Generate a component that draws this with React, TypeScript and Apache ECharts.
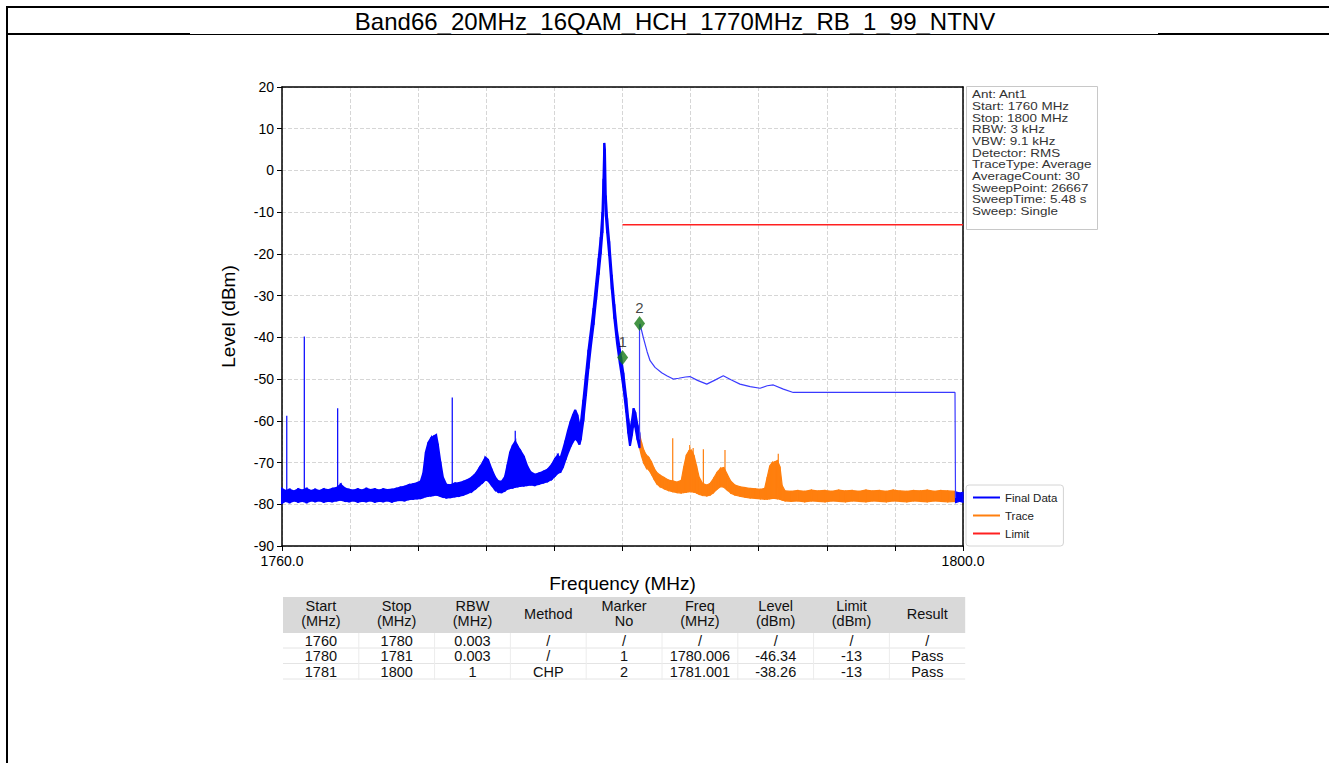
import React, { useEffect, useRef } from 'react';
import * as echarts from 'echarts';

const FONT = '"Liberation Sans", Arial, Helvetica, sans-serif';

const titleText = 'Band66_20MHz_16QAM_HCH_1770MHz_RB_1_99_NTNV';
const xLabelledTicks = [1760, 1800];

const infoLines = [
  'Ant: Ant1',
  'Start: 1760 MHz',
  'Stop: 1800 MHz',
  'RBW: 3 kHz',
  'VBW: 9.1 kHz',
  'Detector: RMS',
  'TraceType: Average',
  'AverageCount: 30',
  'SweepPoint: 26667',
  'SweepTime: 5.48 s',
  'Sweep: Single',
];

// Final Data noise band [freq, low, high] (dBm) 1760 -> 1781 MHz
const finalBand: number[][] = [
  [1760.0, -79.7, -76.3], [1760.2, -79.2, -76.8], [1760.45, -79.5, -76.5], [1760.7, -79.1, -76.9],
  [1760.95, -79.4, -76.4], [1761.2, -79.2, -76.7], [1761.45, -79.5, -76.3], [1761.7, -79.1, -76.8],
  [1761.95, -79.3, -76.5], [1762.2, -79.1, -76.8], [1762.45, -79.4, -76.4], [1762.7, -79.2, -76.6],
  [1762.95, -79.3, -76.3], [1763.2, -79.1, -76.1], [1763.45, -78.9, -75.3], [1763.7, -79.2, -76.2],
  [1763.95, -79.3, -76.5], [1764.2, -79.1, -76.7], [1764.45, -79.4, -76.4], [1764.7, -79.2, -76.7],
  [1764.95, -79.3, -76.3], [1765.2, -79.1, -76.6], [1765.45, -79.4, -76.4], [1765.7, -79.2, -76.7],
  [1765.95, -79.3, -76.4], [1766.2, -79.1, -76.6], [1766.45, -79.4, -76.5], [1766.7, -79.1, -76.3],
  [1766.95, -79.0, -76.0], [1767.2, -79.1, -75.8], [1767.45, -78.8, -75.4], [1767.7, -78.7, -75.2],
  [1767.95, -78.6, -74.9], [1768.15, -78.5, -74.5], [1768.3, -78.3, -72.5], [1768.45, -78.1, -67.5],
  [1768.6, -78.0, -65.2], [1768.75, -77.9, -64.2], [1768.9, -77.8, -63.8], [1769.05, -77.7, -63.4],
  [1769.15, -77.8, -65.5], [1769.3, -78.0, -69.8], [1769.45, -78.2, -73.5], [1769.65, -78.4, -75.3],
  [1769.9, -78.3, -75.4], [1770.15, -78.1, -75.0], [1770.4, -78.0, -74.9], [1770.65, -77.7, -74.6],
  [1770.9, -77.3, -74.2], [1771.15, -76.9, -73.6], [1771.4, -76.1, -72.6], [1771.6, -75.4, -71.3],
  [1771.8, -74.7, -70.0], [1771.95, -74.1, -68.8], [1772.1, -74.3, -69.3], [1772.3, -75.3, -71.5],
  [1772.5, -76.4, -73.4], [1772.7, -77.0, -74.5], [1772.9, -77.1, -74.6], [1773.1, -76.7, -73.4],
  [1773.25, -76.3, -70.5], [1773.4, -76.1, -67.5], [1773.55, -76.0, -66.0], [1773.7, -75.8, -65.0],
  [1773.85, -75.7, -66.2], [1774.0, -75.6, -67.2], [1774.2, -75.5, -68.5], [1774.4, -75.4, -70.8],
  [1774.6, -75.3, -72.3], [1774.85, -75.4, -72.9], [1775.1, -75.1, -72.6], [1775.35, -74.8, -72.2],
  [1775.6, -74.5, -71.7], [1775.85, -73.9, -70.5], [1776.05, -73.1, -69.0], [1776.2, -72.5, -68.3],
  [1776.35, -72.3, -69.0], [1776.5, -71.1, -67.0], [1776.65, -69.3, -64.8], [1776.8, -67.6, -62.3],
  [1776.95, -66.1, -60.2], [1777.1, -64.9, -58.5], [1777.22, -64.3, -57.4], [1777.35, -64.7, -58.6],
  [1777.47, -65.7, -61.0], [1777.55, -64.5, -60.5], [1777.7, -60.0, -55.0], [1777.85, -54.0, -49.0],
  [1778.0, -47.5, -43.0], [1778.15, -42.0, -38.0], [1778.3, -37.0, -33.0], [1778.45, -31.0, -27.0],
  [1778.6, -25.0, -21.0], [1778.72, -20.0, -16.0], [1778.82, -15.0, -10.0], [1778.88, -8.0, -2.0],
  [1778.93, -1.0, 6.6], [1778.97, -6.0, 5.0], [1779.02, -11.0, -6.0], [1779.1, -15.0, -11.5],
  [1779.22, -20.5, -17.0], [1779.37, -28.5, -25.0], [1779.52, -35.5, -32.0], [1779.68, -41.5, -38.5],
  [1779.85, -46.5, -43.0], [1780.05, -52.0, -48.5], [1780.22, -58.0, -54.5], [1780.34, -63.0, -59.5],
  [1780.44, -66.0, -62.5], [1780.55, -63.5, -60.0], [1780.65, -60.5, -57.0], [1780.75, -61.5, -58.0],
  [1780.88, -64.5, -61.0], [1781.0, -66.5, -63.0],
];

// Final Data noise at the far right end
const finalTailBand: number[][] = [
  [1799.56, -79.6, -77.0], [1799.8, -79.3, -77.3], [1800.0, -79.5, -77.1],
];

// Final Data thin line 1781 -> 1800 MHz
const finalLine: number[][] = [
  [1781.0, -64.5], [1781.0, -37.0], [1781.03, -36.8], [1781.22, -40.0], [1781.45, -43.5],
  [1781.62, -45.6], [1781.91, -47.2], [1782.3, -48.5], [1782.6, -49.2], [1782.98, -50.0],
  [1783.3, -49.8], [1783.7, -49.5], [1783.96, -49.4], [1784.4, -50.3], [1784.95, -51.2],
  [1785.4, -50.3], [1785.92, -49.2], [1786.4, -50.2], [1786.9, -51.2], [1787.5, -51.8],
  [1788.08, -52.2], [1788.5, -51.6], [1788.86, -51.4], [1789.45, -52.4], [1790.03, -53.2],
  [1795.0, -53.2], [1799.53, -53.2], [1799.56, -78.5],
];

// spikes [freq, base, top]
const finalSpikes: number[][] = [
  [1760.28, -77.0, -58.8], [1761.31, -77.0, -39.8], [1763.27, -77.0, -57.0],
  [1770.0, -76.0, -54.4], [1773.7, -72.0, -62.4],
];

// Trace noise band [freq, low, high] 1781 -> 1799.56 MHz
const traceBand: number[][] = [
  [1781.0, -66.5, -63.2], [1781.12, -68.5, -65.2], [1781.25, -70.2, -67.0], [1781.4, -71.3, -68.2],
  [1781.55, -71.8, -68.8], [1781.7, -72.8, -69.8], [1781.85, -74.0, -71.3], [1782.0, -75.0, -72.3],
  [1782.2, -75.8, -73.0], [1782.45, -76.3, -73.6], [1782.7, -76.7, -74.2], [1782.95, -77.0, -74.4],
  [1783.2, -77.2, -74.7], [1783.45, -77.3, -74.3], [1783.6, -77.2, -71.0], [1783.75, -77.1, -68.2],
  [1783.9, -77.0, -67.2], [1784.05, -77.0, -67.0], [1784.2, -77.1, -68.3], [1784.35, -77.3, -70.8],
  [1784.5, -77.6, -73.5], [1784.7, -77.9, -75.0], [1784.95, -78.0, -75.4], [1785.15, -77.8, -75.0],
  [1785.35, -77.2, -73.8], [1785.55, -76.4, -72.4], [1785.75, -75.8, -71.4], [1785.95, -75.9, -71.2],
  [1786.15, -76.6, -72.8], [1786.35, -77.3, -74.4], [1786.6, -77.8, -75.4], [1786.9, -78.1, -75.8],
  [1787.2, -78.3, -76.0], [1787.5, -78.5, -76.2], [1787.8, -78.6, -76.3], [1788.1, -78.7, -76.4],
  [1788.35, -78.8, -76.2], [1788.5, -78.8, -73.5], [1788.65, -78.7, -70.8], [1788.8, -78.6, -70.0],
  [1788.95, -78.6, -69.8], [1789.1, -78.7, -69.5], [1789.25, -78.8, -71.0], [1789.38, -79.0, -75.5],
  [1789.55, -79.2, -76.8], [1789.9, -79.3, -76.9], [1790.3, -79.2, -76.7], [1790.7, -79.4, -76.9],
  [1791.1, -79.2, -76.6], [1791.5, -79.3, -76.8], [1791.9, -79.4, -76.7], [1792.3, -79.2, -76.9],
  [1792.7, -79.3, -76.6], [1793.1, -79.4, -76.8], [1793.5, -79.2, -76.7], [1793.9, -79.3, -76.9],
  [1794.3, -79.4, -76.6], [1794.7, -79.2, -76.8], [1795.1, -79.3, -76.7], [1795.5, -79.4, -76.9],
  [1795.9, -79.2, -76.6], [1796.3, -79.3, -76.8], [1796.7, -79.4, -76.9], [1797.1, -79.2, -76.7],
  [1797.5, -79.3, -76.8], [1797.9, -79.4, -76.6], [1798.3, -79.2, -76.9], [1798.7, -79.3, -76.7],
  [1799.1, -79.4, -76.8], [1799.56, -79.3, -76.9],
];

const traceSpikes: number[][] = [
  [1782.95, -75.0, -64.2], [1783.95, -74.0, -65.8], [1784.15, -74.0, -66.5],
  [1784.75, -76.0, -66.8], [1786.02, -73.0, -67.0], [1789.15, -76.0, -67.9],
];

const limitLine: number[][] = [[1780, -13], [1800, -13]];

const markerFreq = [1780.006, 1781.001];
const markerLevel = [-44.8, -36.7];
const markerNo = ['1', '2'];

const tableHead1 = ['Start', 'Stop', 'RBW', 'Method', 'Marker', 'Freq', 'Level', 'Limit', 'Result'];
const tableHead2 = ['(MHz)', '(MHz)', '(MHz)', '', 'No', '(MHz)', '(dBm)', '(dBm)', ''];
const tableRows = [
  ['1760', '1780', '0.003', '/', '/', '/', '/', '/', '/'],
  ['1780', '1781', '0.003', '/', '1', '1780.006', '-46.34', '-13', 'Pass'],
  ['1781', '1800', '1', 'CHP', '2', '1781.001', '-38.26', '-13', 'Pass'],
];

const BLUE = '#0000ff';
const ORANGE = '#ff7f0e';
const RED = '#ff2020';

function bandSeries(name: string, rows: number[][], color: string, lw: number) {
  return {
    type: 'custom',
    name,
    data: rows,
    encode: { x: 0, y: [1, 2] },
    itemStyle: { color },
    z: 3,
    silent: true,
    renderItem: (params: any, api: any) => {
      const i = params.dataIndex;
      if (i >= rows.length - 1) return null;
      const a = rows[i];
      const b = rows[i + 1];
      const pts = [
        api.coord([a[0], a[2]]),
        api.coord([b[0], b[2]]),
        api.coord([b[0], b[1]]),
        api.coord([a[0], a[1]]),
      ];
      return {
        type: 'polygon',
        shape: { points: pts },
        style: { fill: color, stroke: color, lineWidth: lw },
      };
    },
  };
}

function spikeSeries(name: string, rows: number[][], color: string) {
  return {
    type: 'custom',
    name,
    data: rows,
    encode: { x: 0, y: [1, 2] },
    itemStyle: { color },
    z: 3,
    silent: true,
    renderItem: (params: any, api: any) => {
      const r = rows[params.dataIndex];
      const p1 = api.coord([r[0], r[1]]);
      const p2 = api.coord([r[0], r[2]]);
      return {
        type: 'line',
        shape: { x1: p1[0], y1: p1[1], x2: p2[0], y2: p2[1] },
        style: { stroke: color, lineWidth: 1.2 },
      };
    },
  };
}

export default function App() {
  const ref = useRef<HTMLDivElement>(null);

  useEffect(() => {
    if (!ref.current) return;
    const chart = echarts.init(ref.current, undefined, { renderer: 'svg' });

    const tblLeft = 283;
    const colW = 75.8;
    const graphics: any[] = [];

    // page frame
    graphics.push({ type: 'rect', shape: { x: 6, y: 6, width: 1323, height: 2 }, style: { fill: '#000' }, silent: true });
    graphics.push({ type: 'rect', shape: { x: 6, y: 6, width: 2, height: 757 }, style: { fill: '#000' }, silent: true });
    graphics.push({ type: 'rect', shape: { x: 6, y: 33, width: 184, height: 2 }, style: { fill: '#000' }, silent: true });
    graphics.push({ type: 'rect', shape: { x: 1158, y: 33, width: 171, height: 2 }, style: { fill: '#000' }, silent: true });
    graphics.push({ type: 'rect', shape: { x: 190, y: 34, width: 968, height: 1 }, style: { fill: '#000' }, silent: true });

    // title
    graphics.push({
      type: 'text', x: 675, y: 21,
      style: { text: titleText, fontSize: 24, fontFamily: FONT, fill: '#000', align: 'center', verticalAlign: 'middle' },
      silent: true,
    });

    // info box
    graphics.push({
      type: 'rect', shape: { x: 966.5, y: 86.5, width: 131, height: 143 },
      style: { fill: '#fff', stroke: '#c8c8c8', lineWidth: 1 }, silent: true, z: 10,
    });
    infoLines.forEach((ln, i) => {
      graphics.push({
        type: 'text', x: 972, y: 94.5 + i * 11.7, z: 11, scaleX: 1.18,
        style: {
          text: ln, fontSize: 11.4, fontFamily: FONT,
          fill: '#333', align: 'left', verticalAlign: 'middle',
        },
        silent: true,
      });
    });

    // table header background
    graphics.push({
      type: 'rect', shape: { x: tblLeft, y: 597, width: colW * 9, height: 36 },
      style: { fill: '#d9d9d9' }, silent: true,
    });
    for (let r = 0; r < 3; r++) {
      const y = 648 + r * 15.5;
      graphics.push({
        type: 'line', shape: { x1: tblLeft, y1: y, x2: tblLeft + colW * 9, y2: y },
        style: { stroke: '#e4e4e4', lineWidth: 1 }, silent: true,
      });
    }
    for (let c = 1; c < 9; c++) {
      const x = tblLeft + c * colW;
      graphics.push({
        type: 'line', shape: { x1: x, y1: 633, x2: x, y2: 680 },
        style: { stroke: '#ececec', lineWidth: 1 }, silent: true,
      });
    }
    for (let c = 0; c < 9; c++) {
      const cx = tblLeft + colW * (c + 0.5);
      if (tableHead2[c]) {
        graphics.push({ type: 'text', x: cx, y: 606, style: { text: tableHead1[c], fontSize: 14.5, fontFamily: FONT, fill: '#111', align: 'center', verticalAlign: 'middle' }, silent: true });
        graphics.push({ type: 'text', x: cx, y: 621, style: { text: tableHead2[c], fontSize: 14.5, fontFamily: FONT, fill: '#111', align: 'center', verticalAlign: 'middle' }, silent: true });
      } else {
        graphics.push({ type: 'text', x: cx, y: 613.5, style: { text: tableHead1[c], fontSize: 14.5, fontFamily: FONT, fill: '#111', align: 'center', verticalAlign: 'middle' }, silent: true });
      }
      for (let r = 0; r < tableRows.length; r++) {
        graphics.push({
          type: 'text', x: cx, y: 640.5 + r * 15.5,
          style: { text: tableRows[r][c], fontSize: 14.5, fontFamily: FONT, fill: '#111', align: 'center', verticalAlign: 'middle' },
          silent: true,
        });
      }
    }

    const frameAxis = {
      axisLine: { show: true, onZero: false, lineStyle: { color: '#000', width: 1.5 } },
      axisTick: { show: false },
      axisLabel: { show: false },
      splitLine: { show: false },
    };

    const option: any = {
      animation: false,
      backgroundColor: '#ffffff',
      textStyle: { fontFamily: FONT },
      grid: {
        left: 282, top: 87, width: 681, height: 459,
        show: false,
      },
      legend: {
        orient: 'vertical', left: 966, top: 485,
        data: [
          { name: 'Final Data', icon: 'rect' },
          { name: 'Trace', icon: 'rect' },
          { name: 'Limit', icon: 'rect' },
        ],
        itemWidth: 27, itemHeight: 2, itemGap: 5,
        padding: [6, 6, 6, 7],
        backgroundColor: '#fff', borderColor: '#d4d4d4', borderWidth: 1, borderRadius: 3,
        textStyle: { fontSize: 11.5, lineHeight: 13, color: '#222', fontFamily: FONT },
        selectedMode: false,
      },
      xAxis: [
        {
          type: 'value', min: 1760, max: 1800, interval: 4,
          name: 'Frequency (MHz)', nameLocation: 'middle', nameGap: 28,
          nameTextStyle: { fontSize: 19, color: '#000', fontFamily: FONT },
          axisLine: { show: true, onZero: false, lineStyle: { color: '#000', width: 1.5 } },
          axisTick: { show: true, inside: false, length: 5, lineStyle: { color: '#000', width: 1 } },
          axisLabel: {
            fontSize: 14, color: '#000', margin: 8, fontFamily: FONT,
            formatter: (v: number) => (xLabelledTicks.indexOf(v) >= 0 ? v.toFixed(1) : ''),
          },
          splitLine: { show: true, lineStyle: { color: '#d6d6d6', type: 'dashed', width: 1 } },
        },
        { type: 'value', min: 1760, max: 1800, position: 'top', ...frameAxis },
      ],
      yAxis: [
        {
          type: 'value', min: -90, max: 20, interval: 10,
          name: 'Level (dBm)', nameLocation: 'middle', nameGap: 44,
          nameTextStyle: { fontSize: 19, color: '#000', fontFamily: FONT },
          axisLine: { show: true, onZero: false, lineStyle: { color: '#000', width: 1.5 } },
          axisTick: { show: true, inside: false, length: 5, lineStyle: { color: '#000', width: 1 } },
          axisLabel: { fontSize: 14, color: '#000', margin: 8, fontFamily: FONT },
          splitLine: { show: true, lineStyle: { color: '#d6d6d6', type: 'dashed', width: 1 } },
        },
        { type: 'value', min: -90, max: 20, position: 'right', ...frameAxis },
      ],
      series: [
        bandSeries('Trace', traceBand, ORANGE, 1.2),
        spikeSeries('Trace', traceSpikes, ORANGE),
        bandSeries('Final Data', finalBand, BLUE, 2),
        bandSeries('Final Data', finalTailBand, BLUE, 1.2),
        spikeSeries('Final Data', finalSpikes, BLUE),
        {
          type: 'line', name: 'Final Data', data: finalLine, showSymbol: false, symbol: 'none',
          lineStyle: { color: '#3a3aff', width: 1.2 }, itemStyle: { color: BLUE }, z: 4, silent: true,
        },
        {
          type: 'line', name: 'Limit', data: limitLine, showSymbol: false, symbol: 'none',
          lineStyle: { color: RED, width: 1.5 }, itemStyle: { color: RED }, z: 4, silent: true,
        },
        {
          type: 'scatter', name: 'Markers',
          data: markerFreq.map((f, i) => [f, markerLevel[i]]),
          symbol: 'diamond', symbolSize: [11, 15],
          itemStyle: { color: '#177a17' }, z: 6, silent: true,
          label: {
            show: true, position: 'top', distance: 1, fontSize: 15, color: '#111', fontFamily: FONT,
            formatter: (p: any) => markerNo[p.dataIndex],
          },
        },
      ],
      graphic: graphics,
    };

    chart.setOption(option);
    return () => chart.dispose();
  }, []);

  return (
    <div
      ref={ref}
      style={{ position: 'absolute', left: 0, top: 0, width: 1329, height: 763, background: '#fff' }}
    />
  );
}
